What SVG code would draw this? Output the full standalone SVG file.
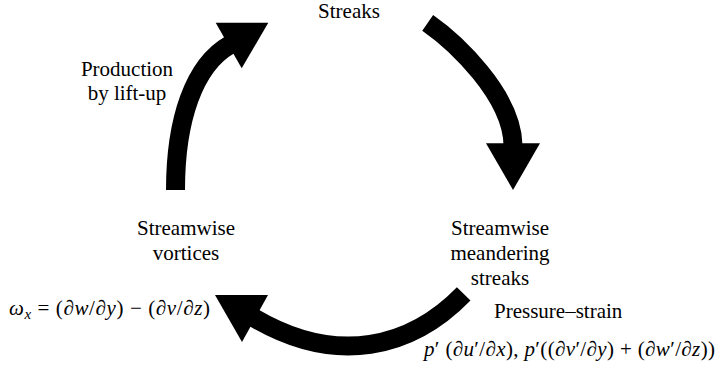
<svg xmlns="http://www.w3.org/2000/svg" width="721" height="369" viewBox="0 0 721 369" font-family="'Liberation Serif', serif">
<rect width="721" height="369" fill="#fff"/>
<g id="connectors" fill="none" stroke="#000" stroke-width="19" stroke-linecap="butt">
  <g id="arrow-liftup">
    <path d="M175.5,190 C175.5,120 193.9,65.3 230,44.8"/>
    <polygon points="215.7,22.7 268.3,22.7 241.7,68.3" fill="#000" stroke="none"/>
  </g>
  <g id="arrow-meander">
    <path d="M427.7,22.9 C455,42 512,95 513,145"/>
    <polygon points="486,143.3 540,143.3 513,190" fill="#000" stroke="none"/>
  </g>
  <g id="arrow-pressure">
    <path d="M463.7,293.9 C411.2,347.9 336.9,366.7 253.5,317.6"/>
    <polygon points="215,295 268,295 242,342" fill="#000" stroke="none"/>
  </g>
</g>
<g id="node-streaks">
  <text x="349" y="18" font-family="Liberation Serif" font-size="21" text-anchor="middle">Streaks</text>
</g>
<g id="node-meandering">
  <text x="500" y="235" font-family="Liberation Serif" font-size="21" text-anchor="middle">Streamwise</text>
  <text x="500" y="260" font-family="Liberation Serif" font-size="21" text-anchor="middle">meandering</text>
  <text x="500" y="285" font-family="Liberation Serif" font-size="21" text-anchor="middle">streaks</text>
</g>
<g id="node-vortices">
  <text x="186" y="235" font-family="Liberation Serif" font-size="21" text-anchor="middle">Streamwise</text>
  <text x="186" y="260" font-family="Liberation Serif" font-size="21" text-anchor="middle">vortices</text>
</g>
<g id="label-liftup">
  <text x="127" y="76" font-family="Liberation Serif" font-size="21" text-anchor="middle">Production</text>
  <text x="127" y="100" font-family="Liberation Serif" font-size="21" text-anchor="middle">by lift-up</text>
</g>
<g id="label-vorticity">
  <text x="9" y="315" font-family="Liberation Serif" font-size="21" textLength="201" lengthAdjust="spacing"><tspan font-style="italic">&#969;</tspan><tspan font-style="italic" font-size="15" dy="4">x</tspan><tspan dy="-4"> = (&#8706;</tspan><tspan font-style="italic">w</tspan>/&#8706;<tspan font-style="italic">y</tspan>) &#8722; (&#8706;<tspan font-style="italic">v</tspan>/&#8706;<tspan font-style="italic">z</tspan>)</text>
</g>
<g id="label-pressure">
  <text x="494" y="318" font-family="Liberation Serif" font-size="21">Pressure&#8211;strain</text>
  <text x="424" y="356" font-family="Liberation Serif" font-size="21" textLength="291" lengthAdjust="spacing"><tspan font-style="italic">p</tspan>&#8242; (&#8706;<tspan font-style="italic">u</tspan>&#8242;/&#8706;<tspan font-style="italic">x</tspan>), <tspan font-style="italic">p</tspan>&#8242;((&#8706;<tspan font-style="italic">v</tspan>&#8242;/&#8706;<tspan font-style="italic">y</tspan>) + (&#8706;<tspan font-style="italic">w</tspan>&#8242;/&#8706;<tspan font-style="italic">z</tspan>))</text>
</g>
</svg>
